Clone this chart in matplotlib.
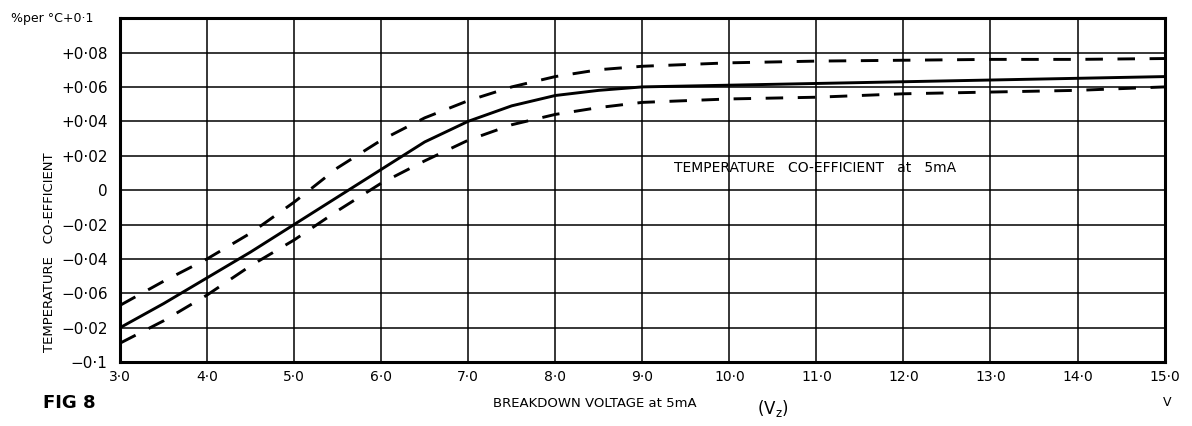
import matplotlib.pyplot as plt

# Spenningsverdier (V) og temperaturkoeffisient (% per °C) lest av figuren
spenning = [3.0, 3.5, 4.0, 4.5, 5.0, 5.5, 6.0, 6.5, 7.0, 7.5, 8.0, 8.5, 9.0,
            10.0, 11.0, 12.0, 13.0, 14.0, 15.0]
typisk = [-0.080, -0.066, -0.051, -0.036, -0.020, -0.004, 0.012, 0.028, 0.040,
          0.049, 0.055, 0.058, 0.060, 0.061, 0.062, 0.063, 0.064, 0.065, 0.066]
maks = [-0.067, -0.053, -0.040, -0.025, -0.007, 0.013, 0.029, 0.042, 0.052,
        0.060, 0.066, 0.070, 0.072, 0.074, 0.075, 0.0755, 0.076, 0.076, 0.0765]
minimum = [-0.089, -0.076, -0.061, -0.044, -0.029, -0.012, 0.004, 0.017, 0.029,
           0.038, 0.044, 0.048, 0.051, 0.053, 0.054, 0.056, 0.057, 0.058, 0.060]

x_ticks = [3, 4, 5, 6, 7, 8, 9, 10, 11, 12, 13, 14, 15]
x_etiketter = ["3·0", "4·0", "5·0", "6·0", "7·0", "8·0", "9·0", "10·0", "11·0",
               "12·0", "13·0", "14·0", "15·0"]
y_ticks = [-0.1, -0.08, -0.06, -0.04, -0.02, 0.0, 0.02, 0.04, 0.06, 0.08, 0.1]
# originalen har trykkfeil "-0·02" der det skulle stått -0·08
y_etiketter = ["−0·1", "−0·02", "−0·06", "−0·04", "−0·02", "0",
               "+0·02", "+0·04", "+0·06", "+0·08", ""]

fig = plt.figure(figsize=(11.92, 4.26), dpi=100)
ax = fig.add_axes([0.1007, 0.150, 0.8763, 0.8075])

ax.plot(spenning, typisk, color="black", linewidth=2.1, solid_capstyle="butt")
ax.plot(spenning, maks, color="black", linewidth=2.1, dashes=(6, 5))
ax.plot(spenning, minimum, color="black", linewidth=2.1, dashes=(6, 5))

ax.set_xlim(3, 15)
ax.set_ylim(-0.1, 0.1)
ax.set_xticks(x_ticks)
ax.set_xticklabels(x_etiketter, fontsize=10)
ax.set_yticks(y_ticks)
ax.set_yticklabels(y_etiketter, fontsize=11)
ax.tick_params(axis="x", length=0, pad=6)
ax.tick_params(axis="y", length=0, pad=9)
ax.grid(True, color="black", linewidth=1.1)
for side in ax.spines.values():
    side.set_linewidth(2.2)

ax.set_ylabel("TEMPERATURE   CO-EFFICIENT", fontsize=9.5)
ax.yaxis.set_label_coords(-0.061, 0.32)

ax.text(9.36, 0.013, "TEMPERATURE   CO-EFFICIENT   at   5mA", fontsize=10,
        va="center", ha="left")

fig.text(0.009, 0.957, "%per °C+0·1", fontsize=9, va="center", ha="left")
fig.text(0.036, 0.054, "FIG 8", fontsize=13, fontweight="bold", va="center")
fig.text(0.499, 0.052, "BREAKDOWN VOLTAGE at 5mA", fontsize=9.5, ha="center",
         va="center")
fig.text(0.648, 0.040, r"$(\mathrm{V_z})$", fontsize=12, ha="center", va="center")
fig.text(0.979, 0.054, "V", fontsize=9, ha="center", va="center")

fig.savefig("out.png", dpi=100)
